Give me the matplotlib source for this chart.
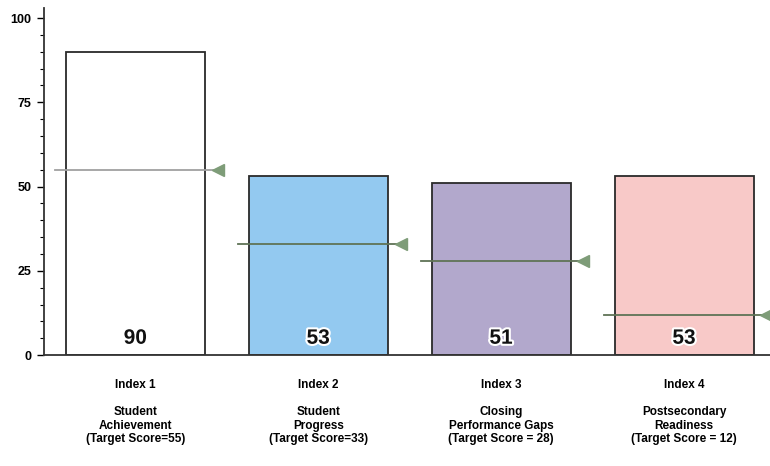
import matplotlib
matplotlib.use("Agg")
import matplotlib.pyplot as plt
import matplotlib.patheffects as pe
from matplotlib.ticker import MultipleLocator

index_labels = ["Index 1", "Index 2", "Index 3", "Index 4"]
names = ["Student\nAchievement", "Student\nProgress", "Closing\nPerformance Gaps", "Postsecondary\nReadiness"]
target_texts = ["(Target Score=55)", "(Target Score=33)", "(Target Score = 28)", "(Target Score = 12)"]
scores = [90, 53, 51, 53]
targets = [55, 33, 28, 12]
bar_colors = ["#ffffff", "#93c9f0", "#b2a8cc", "#f8c9c8"]
target_line_colors = ["#a0a0a0", "#5f7356", "#5f7356", "#5f7356"]
marker_color = "#7e9c78"

plt.rcParams['font.family'] = ['Liberation Sans', 'DejaVu Sans']

fig = plt.figure(figsize=(7.7, 4.66), dpi=100)
ax = fig.add_axes([0.057, 0.238, 0.943, 0.745])

x = list(range(len(scores)))
ax.bar(x, scores, width=0.76, color=bar_colors, edgecolor="#2a2a2a", linewidth=1.3, zorder=2)

for i, (t, c) in enumerate(zip(targets, target_line_colors)):
    ax.plot([i - 0.44, i + 0.43], [t, t], color=c, linewidth=1.3, zorder=3)
    ax.plot([i + 0.45], [t], marker="<", markersize=8, color=marker_color, zorder=3, clip_on=False)

for i, s in enumerate(scores):
    ax.text(i, 5, str(s), ha="center", va="center", fontsize=15, fontweight="bold",
            color="#111111", zorder=4,
            path_effects=[pe.withStroke(linewidth=3, foreground="white")])

ax.set_xlim(-0.5, 3.47)
ax.set_ylim(0, 103)
ax.yaxis.set_major_locator(MultipleLocator(25))
ax.yaxis.set_minor_locator(MultipleLocator(5))
ax.tick_params(axis='y', which='major', length=5, width=1, labelsize=9, pad=4)
ax.tick_params(axis='y', which='minor', length=3, width=0.8)
for lbl in ax.get_yticklabels():
    lbl.set_fontweight("bold")

labels = [f"{a}\n\n{b}\n{c}" for a, b, c in zip(index_labels, names, target_texts)]
ax.set_xticks(x)
ax.set_xticklabels(labels, fontsize=8.5, fontweight="bold", linespacing=1.18, va="top")
ax.tick_params(axis='x', length=0, pad=17)

for side in ["top", "right"]:
    ax.spines[side].set_visible(False)
ax.spines["left"].set_linewidth(1.3)
ax.spines["bottom"].set_linewidth(1.3)
ax.spines["left"].set_color("#333333")
ax.spines["bottom"].set_color("#333333")

fig.savefig("out.png", dpi=100)
